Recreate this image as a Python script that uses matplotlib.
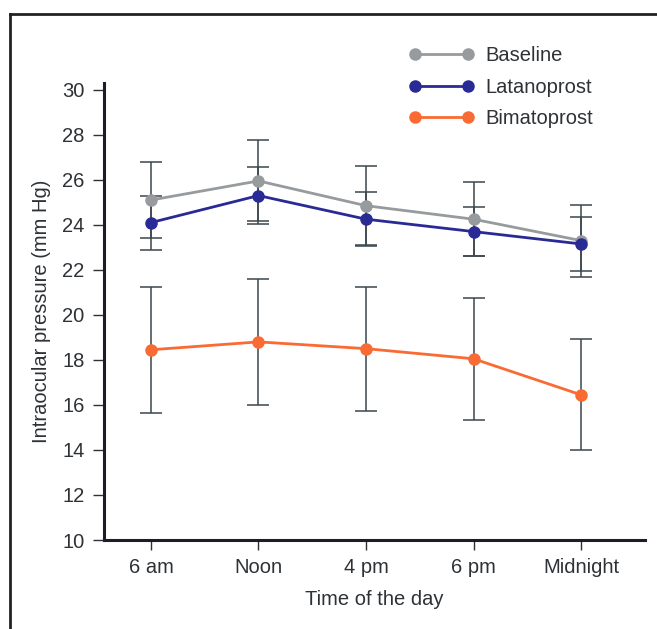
import matplotlib
matplotlib.use("Agg")
import matplotlib.pyplot as plt
from matplotlib.lines import Line2D
from matplotlib.legend_handler import HandlerLine2D
import numpy as np

# data (mm Hg, mean +/- SD)
times = ["6 am", "Noon", "4 pm", "6 pm", "Midnight"]
baseline = [25.1, 25.95, 24.85, 24.25, 23.3]
baseline_err = [1.7, 1.8, 1.75, 1.65, 1.6]
latanoprost = [24.1, 25.3, 24.25, 23.7, 23.15]
latanoprost_err = [1.2, 1.25, 1.2, 1.1, 1.2]
bimatoprost = [18.45, 18.8, 18.5, 18.05, 16.45]
bimatoprost_err = [2.8, 2.8, 2.75, 2.7, 2.47]

plt.rcParams['font.family'] = ['Liberation Sans', 'DejaVu Sans']
text_col = '#2e3236'
err_col = '#3b474d'
fs = 14.5

fig = plt.figure(figsize=(6.57, 6.29), dpi=100)
ax = fig.add_axes([104/657, 1-540/629, (645-104)/657, (540-83)/629])

x = np.arange(len(times))
series = [
    ("Baseline", baseline, baseline_err, '#979b9e'),
    ("Latanoprost", latanoprost, latanoprost_err, '#2a2a96'),
    ("Bimatoprost", bimatoprost, bimatoprost_err, '#fa6b34'),
]

# error bars first, behind the lines
for name, vals, errs, col in series:
    ax.errorbar(x, vals, yerr=errs, fmt='none', ecolor=err_col, elinewidth=1.1,
                capsize=8, capthick=1.1, zorder=2)

for name, vals, errs, col in series:
    ax.plot(x, vals, color=col, linewidth=2, marker='o', markersize=8,
            label=name, zorder=3)

ax.set_xlim(-0.437, 4.595)
ax.set_ylim(10, 30.3)
ax.set_yticks(np.arange(10, 31, 2))
ax.set_xticks(x)
ax.set_xticklabels(times)

for s in ['top', 'right']:
    ax.spines[s].set_visible(False)
ax.spines['left'].set_linewidth(2.2)
ax.spines['bottom'].set_linewidth(2.2)
ax.spines['left'].set_color('#1c1c2a')
ax.spines['bottom'].set_color('#1c1c2a')

ax.tick_params(axis='y', direction='out', length=8, width=1, color='#2e3236',
               labelsize=fs, labelcolor=text_col, pad=6)
ax.tick_params(axis='x', direction='out', length=7, width=1, color='#2e3236',
               labelsize=fs, labelcolor=text_col, pad=6)

ax.set_xlabel("Time of the day", fontsize=fs, color=text_col, labelpad=9)
ax.set_ylabel("Intraocular pressure (mm Hg)", fontsize=fs, color=text_col, labelpad=8)

leg = ax.legend(loc='upper left', bbox_to_anchor=(397/657, 1-28/629),
                bbox_transform=fig.transFigure, frameon=False, numpoints=2,
                fontsize=fs, handlelength=2.64, handletextpad=0.85,
                labelspacing=0.62,
                handler_map={Line2D: HandlerLine2D(marker_pad=0)})
for t in leg.get_texts():
    t.set_color(text_col)

# frame around the figure panel (left and top edges)
fig.add_artist(Line2D([10/657, 10/657], [0, 1-14/629], transform=fig.transFigure,
                      color='#222222', linewidth=2))
fig.add_artist(Line2D([10/657, 1], [1-14/629, 1-14/629], transform=fig.transFigure,
                      color='#222222', linewidth=2))

fig.savefig("out.png", dpi=100)
